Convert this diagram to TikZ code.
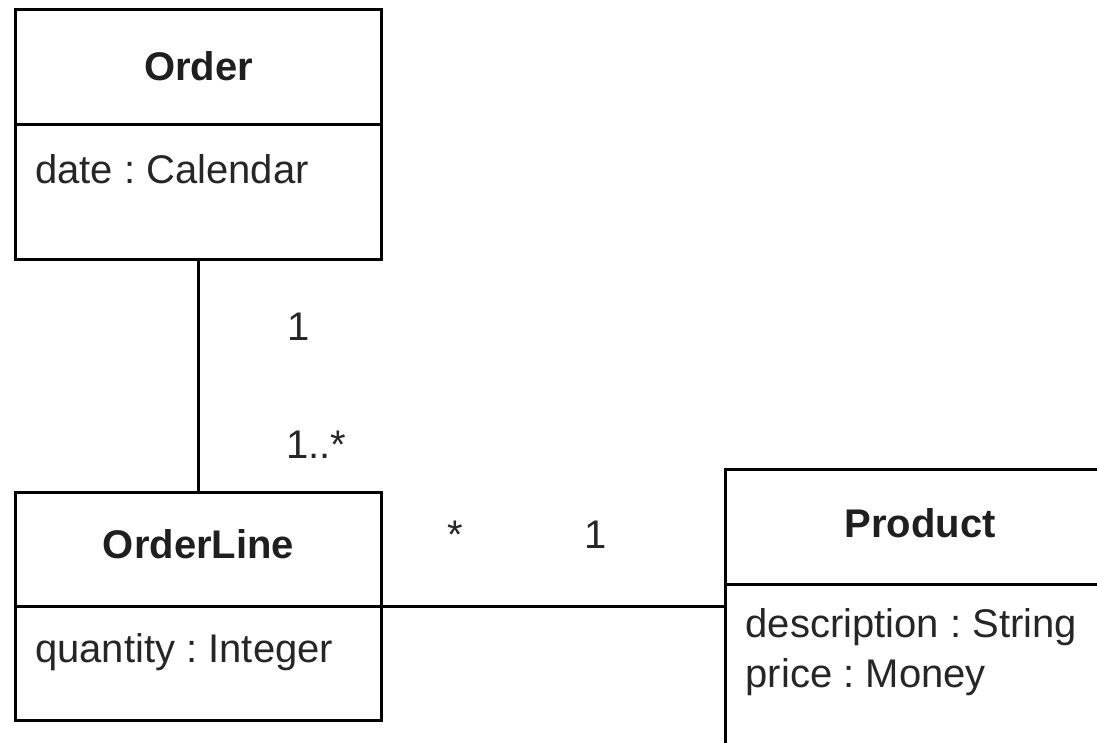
\documentclass[tikz,border=0pt]{standalone}
\usepackage{fontspec}
\setmainfont{Liberation Sans}
\frenchspacing
\begin{document}
\begin{tikzpicture}[x=1pt,y=-1pt,
  compartment/.style={draw=black, line width=3pt, rectangle, inner sep=0pt,
    outer sep=0pt, anchor=north west},
  classname/.style={font=\fontsize{40}{50}\selectfont\bfseries, text=black!88,
    anchor=base, inner sep=0pt},
  attr/.style={font=\fontsize{40}{50}\selectfont, text=black!85,
    anchor=base west, inner sep=0pt},
  mult/.style={font=\fontsize{40}{50}\selectfont, text=black!85,
    anchor=base, inner sep=0pt},
  assoc/.style={draw=black, line width=3pt}]
\useasboundingbox (0,0) rectangle (1097,742);
\clip (0,0) rectangle (1097,742);

% Order class
\node[compartment, minimum width=366pt, minimum height=115pt] (orderhead) at (15.5,9) {};
\node[compartment, minimum width=366pt, minimum height=135.5pt] (orderbody) at (15.5,124) {};
\node[classname] (ordername) at (198.5,80) {Order};
\node[attr] (orderdate) at (35,183) {date : Calendar};

% OrderLine class
\node[compartment, minimum width=366pt, minimum height=114.4pt] (linehead) at (15.5,492.3) {};
\node[compartment, minimum width=366pt, minimum height=113.3pt] (linebody) at (15.5,606.7) {};
\node[classname] (linename) at (198.5,558) {OrderLine};
\node[attr] (lineqty) at (35,662) {quantity : Integer};

% Product class
\node[compartment, minimum width=389pt, minimum height=114.5pt] (prodhead) at (725.5,469.5) {};
\node[compartment, minimum width=389pt, minimum height=162pt] (prodbody) at (725.5,584) {};
\node[classname] (prodname) at (920,537) {Product};
\node[attr] (proddesc) at (745.5,637) {description : String};
\node[attr] (prodprice) at (745.5,687) {price : Money};

% Associations
\draw[assoc] (orderbody.south) -- (linehead.north);
\draw[assoc] (linehead.south east) -- (linehead.south east -| prodbody.west);

% Multiplicities
\node[mult] (m1) at (299,340) {1};
\node[mult, anchor=base west] (m2) at (286,458) {1..*};
\node[mult] (m3) at (455,548) {*};
\node[mult] (m4) at (596,548) {1};
\end{tikzpicture}
\end{document}
